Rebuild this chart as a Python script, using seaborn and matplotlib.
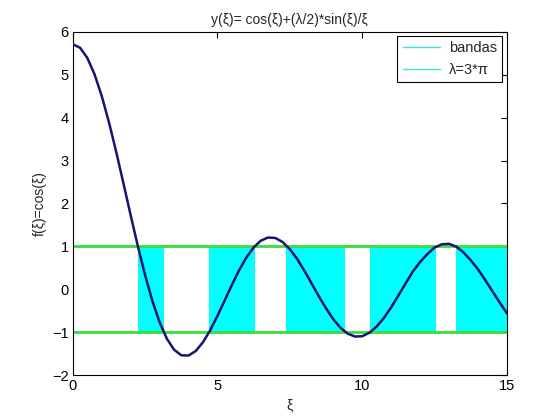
import numpy as np
import pandas as pd
import seaborn as sns
import matplotlib
matplotlib.use('Agg')
import matplotlib.pyplot as plt
from matplotlib.lines import Line2D

# curve, step 0.25
xi = [0.0, 0.25, 0.5, 0.75, 1.0, 1.25, 1.5, 1.75, 2.0, 2.25, 2.5, 2.75, 3.0, 3.25, 3.5, 3.75,
      4.0, 4.25, 4.5, 4.75, 5.0, 5.25, 5.5, 5.75, 6.0, 6.25, 6.5, 6.75, 7.0, 7.25, 7.5, 7.75,
      8.0, 8.25, 8.5, 8.75, 9.0, 9.25, 9.5, 9.75, 10.0, 10.25, 10.5, 10.75, 11.0, 11.25, 11.5,
      11.75, 12.0, 12.25, 12.5, 12.75, 13.0, 13.25, 13.5, 13.75, 14.0, 14.25, 14.5, 14.75, 15.0]
f_xi = [5.712, 5.632, 5.396, 5.015, 4.506, 3.893, 3.204, 2.471, 1.726, 1.001, 0.327, -0.270,
        -0.768, -1.151, -1.409, -1.539, -1.545, -1.439, -1.234, -0.954, -0.620, -0.259, 0.104,
        0.445, 0.741, 0.975, 1.133, 1.207, 1.196, 1.102, 0.936, 0.712, 0.437, 0.139, -0.159,
        -0.441, -0.695, -0.896, -1.034, -1.102, -1.095, -1.014, -0.870, -0.671, -0.424, -0.150,
        0.134, 0.411, 0.633, 0.817, 0.972, 1.048, 1.060, 0.996, 0.862, 0.680, 0.470, 0.220,
        -0.042, -0.304, -0.555]

# allowed bands (|f| <= 1)
band_start = [2.24, 4.71, 7.38, 10.26, 13.24]
band_end = [3.14, 6.28, 9.42, 12.57, 15.0]
limits = [1, -1]

sns.set_style('white')
plt.rcParams['font.family'] = ['Liberation Sans', 'DejaVu Sans']

fig = plt.figure(figsize=(5.6, 4.2), dpi=100)
ax = fig.add_axes([0.130, 0.107, 0.775, 0.817])

for s, e in zip(band_start, band_end):
    ax.fill_between([s, e], -1, 1, color='#00FFFF', linewidth=0, zorder=1)

for lim in limits:
    sns.lineplot(x=[0, 15], y=[lim, lim], color='#3CDC3C', linewidth=2, ax=ax, zorder=2)

df = pd.DataFrame({'xi': xi, 'f': f_xi})
sns.lineplot(data=df, x='xi', y='f', sort=False, color='#151570', linewidth=1.8,
             solid_joinstyle='round', ax=ax, zorder=3)

ax.set_xlim(0, 15)
ax.set_ylim(-2, 6)
ax.set_xticks([0, 5, 10, 15])
ax.set_yticks(range(-2, 7))
ax.tick_params(direction='in', length=4, top=True, right=True, labelsize=10.5, colors='black', pad=3)
for sp in ax.spines.values():
    sp.set_visible(True)
    sp.set_color('black')
    sp.set_linewidth(0.8)

ax.set_title('y(ξ)= cos(ξ)+(λ/2)*sin(ξ)/ξ', fontsize=10)
ax.set_xlabel('ξ', fontsize=10)
ax.set_ylabel('f(ξ)=cos(ξ)', fontsize=10)

handles = [Line2D([], [], color='#40DDDD', linewidth=1),
           Line2D([], [], color='#40DDDD', linewidth=1)]
leg = ax.legend(handles, ['bandas', 'λ=3*π'], loc='upper right', fontsize=10.5,
                frameon=True, fancybox=False, edgecolor='black', framealpha=1,
                borderaxespad=0.3, handlelength=2.6, handletextpad=0.6, borderpad=0.35)
leg.get_frame().set_linewidth(0.8)

fig.savefig('out.png', dpi=100)
